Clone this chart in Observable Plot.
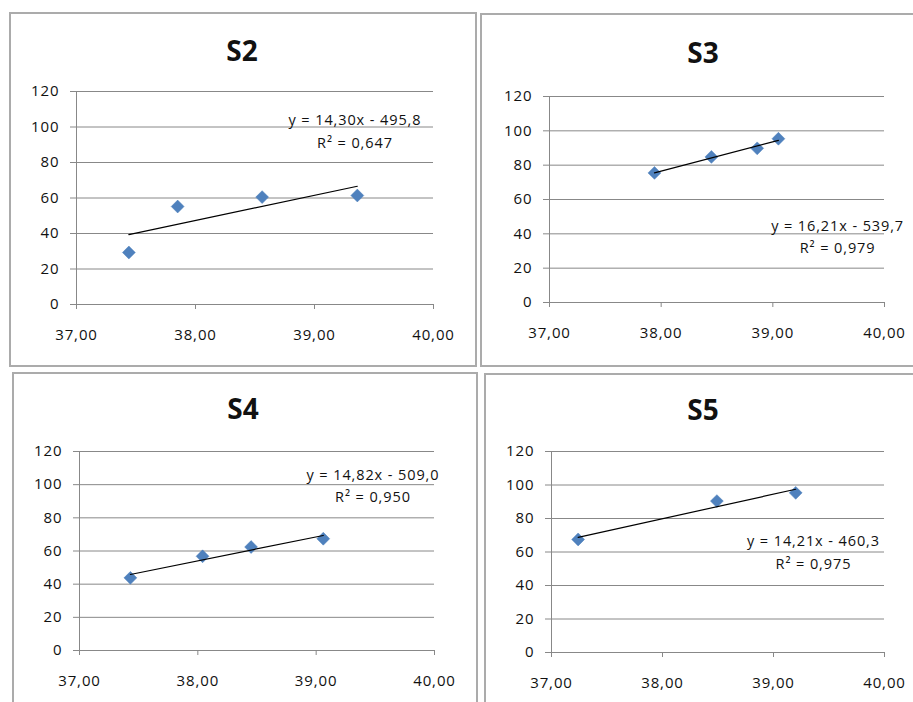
<!DOCTYPE html>
<html><head><meta charset="utf-8">
<script src="https://cdn.jsdelivr.net/npm/d3@7"></script>
<script src="https://cdn.jsdelivr.net/npm/@observablehq/plot@0.6"></script>
<style>
html,body{margin:0;padding:0;background:#fff;}
body{width:913px;height:702px;overflow:hidden;position:relative;font-family:"Open Sans",sans-serif;}
.box{position:absolute;border:2px solid #ababab;box-sizing:border-box;background:#fff;}
.title{position:absolute;font-weight:700;font-size:28px;line-height:1;color:#111;transform:translate(-50%,-50%);white-space:nowrap;}
.chart{position:absolute;}
</style></head><body>
<script>
// ---- data ----
const panelNames = ["S2", "S3", "S4", "S5"];
const s2X = [37.44, 37.85, 38.56, 39.36];
const s2Y = [29.3, 55.2, 60.5, 61.4];
const s3X = [37.94, 38.45, 38.86, 39.05];
const s3Y = [75.5, 84.8, 89.8, 95.4];
const s4X = [37.43, 38.04, 38.45, 39.06];
const s4Y = [43.8, 56.8, 62.4, 67.4];
const s5X = [37.24, 38.49, 39.20];
const s5Y = [67.5, 90.4, 95.3];
const equations = ["y = 14,30x - 495,8", "y = 16,21x - 539,7", "y = 14,82x - 509,0", "y = 14,21x - 460,3"];
const rSquared = ["R² = 0,647", "R² = 0,979", "R² = 0,950", "R² = 0,975"];
const xTicks = [37, 38, 39, 40];
const xTickLabels = ["37,00", "38,00", "39,00", "40,00"];
const yTicks = [0, 20, 40, 60, 80, 100, 120];
// equation label anchor (data units)
const labelX = [39.34, 39.58, 39.48, 39.36];
const labelY = [98.6, 39.3, 100.4, 60.9];

const seriesX = [s2X, s3X, s4X, s5X];
const seriesY = [s2Y, s3Y, s4Y, s5Y];

// ---- layout (page pixels) ----
const layout = [
  {box: [9, 12, 468, 355], frame: [76, 433, 91, 304], title: [242, 50]},
  {box: [480, 13, 440, 354], frame: [549, 884, 96, 302], title: [703, 52]},
  {box: [12, 372, 466, 340], frame: [79, 434, 451, 650], title: [243, 408]},
  {box: [484, 373, 440, 340], frame: [551, 884, 451, 652], title: [703, 409]}
];

const gridColor = "#888888";
const textColor = "#111111";
const fmtX = d => xTickLabels[xTicks.indexOf(d)];

panelNames.forEach((name, i) => {
  const L = layout[i];
  const box = document.createElement("div");
  box.className = "box";
  Object.assign(box.style, {left: L.box[0] + "px", top: L.box[1] + "px", width: L.box[2] + "px", height: L.box[3] + "px"});
  document.body.appendChild(box);

  const t = document.createElement("div");
  t.className = "title";
  t.textContent = name;
  Object.assign(t.style, {left: L.title[0] + "px", top: L.title[1] + "px"});
  document.body.appendChild(t);

  const mL = 70, mT = 80, mR = 30, mB = 50;
  const [fx0, fx1, fy0, fy1] = L.frame;
  const data = seriesX[i].map((x, j) => ({x, y: seriesY[i][j]}));
  const label = [{x: labelX[i], y: labelY[i], t: equations[i] + "\n" + rSquared[i]}];

  const svg = Plot.plot({
    width: fx1 - fx0 + mL + mR,
    height: fy1 - fy0 + mT + mB,
    marginLeft: mL, marginRight: mR, marginTop: mT, marginBottom: mB,
    style: {fontFamily: "'Open Sans', sans-serif", fontSize: "15px", letterSpacing: "0.9px", color: textColor, background: "transparent", overflow: "visible"},
    x: {domain: [37, 40], label: null},
    y: {domain: [0, 120], label: null},
    marks: [
      Plot.ruleY(yTicks, {stroke: gridColor, strokeWidth: 1}),
      Plot.ruleX([xTicks[0]], {stroke: gridColor, strokeWidth: 1}),
      Plot.axisY({ticks: yTicks, tickSize: 6, tickPadding: 11, stroke: gridColor, fill: textColor, label: null, fontSize: 15}),
      Plot.axisX({ticks: xTicks, tickSize: 5, tickPadding: 20, stroke: gridColor, fill: textColor, label: null, tickFormat: fmtX, fontSize: 15}),
      Plot.dot(data, {x: "x", y: "y", symbol: "diamond2", r: 5.8, fill: "#4F81BD", stroke: "#4A7EBB", strokeWidth: 0.5}),
      Plot.linearRegressionY(data, {x: "x", y: "y", stroke: "#000", strokeWidth: 1.2, ci: 0}),
      Plot.text(label, {x: "x", y: "y", text: "t", fontSize: 14.5, lineHeight: 1.55, textAnchor: "middle", fill: textColor})
    ]
  });
  svg.classList.add("chart");
  Object.assign(svg.style, {left: (fx0 - mL) + "px", top: (fy0 - mT) + "px"});
  document.body.appendChild(svg);
});
</script>
</body></html>
